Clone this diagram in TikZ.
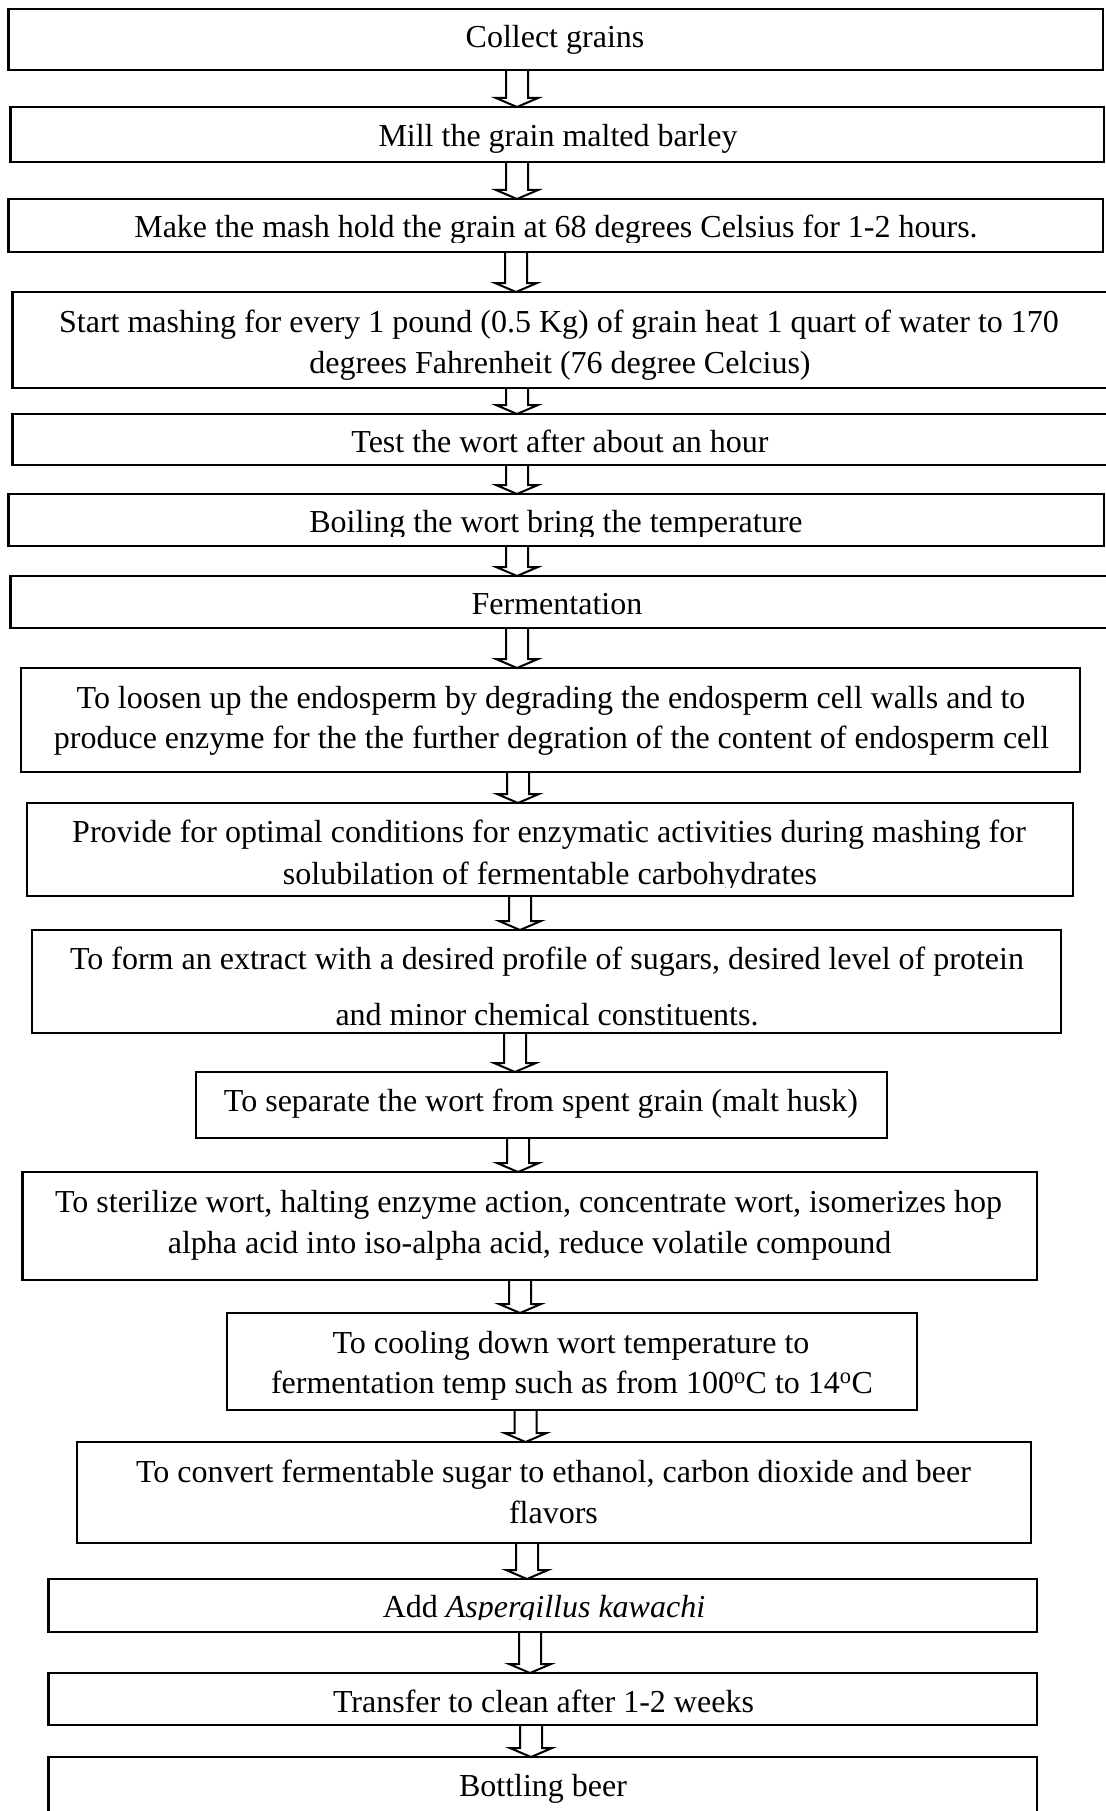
\documentclass[tikz,border=0pt]{standalone}
\usepackage{fontspec}
\setmainfont{Liberation Serif}
\usetikzlibrary{calc}
\tikzset{
  box/.style={draw, line width=2.5pt, inner sep=0pt, outer sep=0pt, rectangle},
  txt/.style={inner sep=0pt, outer sep=0pt, anchor=base, font=\fontsize{32}{38}\selectfont},
  arr/.style={draw, line width=2pt, line join=miter}
}
\newcommand\mkbox[5]{\node[box, minimum width={(#4)-(#2)}, minimum height={(#5)-(#3)}] (#1) at ({((#2)+(#4))/2},{((#3)+(#5))/2}) {};}
\newcommand\flowarrow[3]{%
  \draw[arr] let \p1=(#1.south), \p2=(#2.north) in
   ({(#3-11)*1pt}, \y1) -- ({(#3-11)*1pt}, {\y2+9pt}) -- ({(#3-21)*1pt}, {\y2+9pt}) -- ({#3*1pt}, \y2)
   -- ({(#3+21)*1pt}, {\y2+9pt}) -- ({(#3+11)*1pt}, {\y2+9pt}) -- ({(#3+11)*1pt}, \y1);}
\begin{document}
\begin{tikzpicture}[x=1pt,y=-1pt]
\fill[white] (0,0) rectangle (1105,1811);
\useasboundingbox (0,0) rectangle (1105,1811);
\mkbox{b1}{8.5}{9}{1103}{70}
\mkbox{b2}{10.5}{107}{1104}{162}
\mkbox{b3}{8.5}{199}{1103}{252}
\mkbox{b4}{12.5}{292}{1107}{388}
\mkbox{b5}{12.5}{414}{1107}{465}
\mkbox{b6}{8.5}{494}{1104}{546}
\mkbox{b7}{10.5}{576}{1107}{628}
\mkbox{b8}{21}{668}{1080}{772}
\mkbox{b9}{27}{803}{1073}{896}
\mkbox{b10}{32}{930}{1061}{1033}
\mkbox{b11}{196}{1072}{887}{1138}
\mkbox{b12}{22.5}{1172}{1037}{1280}
\mkbox{b13}{227}{1313}{917}{1410}
\mkbox{b14}{77}{1442}{1031}{1543}
\mkbox{b15}{48.6}{1579}{1037}{1632}
\mkbox{b16}{48.6}{1673}{1037}{1725}
\mkbox{b17}{48.6}{1757}{1037}{1830}

\node[txt] (t1) at (555,48) {Collect grains};
\node[txt] (t2) at (558,147) {Mill the grain malted barley};
\begin{scope}\clip (8.5,199) rectangle (1103,243);
\node[txt] (t3) at (556,238) {Make the mash hold the grain at 68 degrees Celsius for 1-2 hours.};
\end{scope}
\node[txt] (t4a) at (559,332) {Start mashing for every 1 pound (0.5 Kg) of grain heat 1 quart of water to 170};
\node[txt] (t4b) at (560,373) {degrees Fahrenheit (76 degree Celcius)};
\node[txt] (t5) at (560,452) {Test the wort after about an hour};
\begin{scope}\clip (8.5,494) rectangle (1104,536);
\node[txt] (t6) at (556,532) {Boiling the wort bring the temperature};
\end{scope}
\node[txt] (t7) at (557,614) {Fermentation};
\node[txt] (t8a) at (551,708) {To loosen up the endosperm by degrading the endosperm cell walls and to};
\node[txt] (t8b) at (551.5,748) {produce enzyme for the the further degration of the content of endosperm cell};
\node[txt] (t9a) at (549,842) {Provide for optimal conditions for enzymatic activities during mashing for};
\begin{scope}\clip (27,803) rectangle (1073,887);
\node[txt] (t9b) at (550,884) {solubilation of fermentable carbohydrates};
\end{scope}
\node[txt] (t10a) at (547,969) {To form an extract with a desired profile of sugars, desired level of protein};
\node[txt] (t10b) at (547,1025) {and minor chemical constituents.};
\node[txt] (t11) at (541,1111) {To separate the wort from spent grain (malt husk)};
\node[txt] (t12a) at (528.5,1212) {To sterilize wort, halting enzyme action, concentrate wort, isomerizes hop};
\node[txt] (t12b) at (529.5,1253) {alpha acid into iso-alpha acid, reduce volatile compound};
\node[txt] (t13a) at (571,1353) {To cooling down wort temperature to};
\begin{scope}\clip (227,1313) rectangle (917,1401);
\node[txt] (t13b) at (572,1393) {fermentation temp such as from 100\textsuperscript{o}C to 14\textsuperscript{o}C};
\end{scope}
\node[txt] (t14a) at (553.5,1482) {To convert fermentable sugar to ethanol, carbon dioxide and beer};
\node[txt] (t14b) at (553.5,1523) {flavors};
\begin{scope}\clip (48.6,1579) rectangle (1037,1619);
\node[txt] (t15) at (544,1617) {Add \textit{Aspergillus kawachi}};
\end{scope}
\node[txt] (t16) at (543.5,1712) {Transfer to clean after 1-2 weeks};
\node[txt] (t17) at (543,1796) {Bottling beer};

\flowarrow{b1}{b2}{517}
\flowarrow{b2}{b3}{517}
\flowarrow{b3}{b4}{516}
\flowarrow{b4}{b5}{517}
\flowarrow{b5}{b6}{517}
\flowarrow{b6}{b7}{517}
\flowarrow{b7}{b8}{517}
\flowarrow{b8}{b9}{518}
\flowarrow{b9}{b10}{520}
\flowarrow{b10}{b11}{515}
\flowarrow{b11}{b12}{518}
\flowarrow{b12}{b13}{520}
\flowarrow{b13}{b14}{525.5}
\flowarrow{b14}{b15}{527}
\flowarrow{b15}{b16}{530}
\flowarrow{b16}{b17}{531}
\end{tikzpicture}
\end{document}
